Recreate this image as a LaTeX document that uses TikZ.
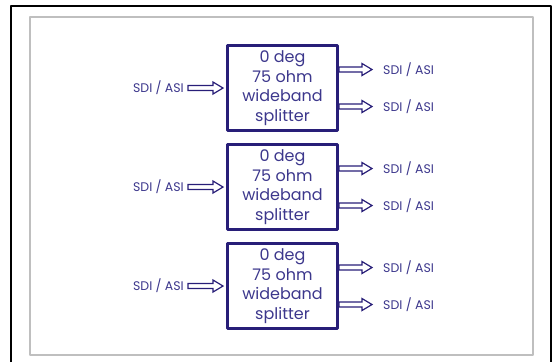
\documentclass[tikz,border=0pt]{standalone}
\usepackage{fontspec}
\setmainfont{Poppins}
\usetikzlibrary{positioning,calc}
\definecolor{splitblue}{RGB}{40,30,120}
\definecolor{labelblue}{RGB}{60,55,140}
\newcommand{\blockarrow}[2]{%
	\draw[sigarrow] let \p1=(#1), \p2=(#2) in
	(\x1,\y1+2.5pt) -- (\x2-10pt,\y1+2.5pt) -- (\x2-10pt,\y1+6pt) -- (\x2,\y1)
	-- (\x2-10pt,\y1-6pt) -- (\x2-10pt,\y1-2.5pt) -- (\x1,\y1-2.5pt) -- cycle;}
\begin{document}
\begin{tikzpicture}[x=1pt,y=-1pt,line join=round,
	splitbox/.style={draw=splitblue,line width=3pt,minimum width=110pt,minimum height=85pt,inner sep=0pt,align=center,text=labelblue,font=\fontsize{16}{19.5}\selectfont},
	sigtext/.style={text=labelblue,font=\fontsize{12.5}{14}\selectfont,inner sep=1pt},
	sigarrow/.style={draw=splitblue,line width=1.2pt,fill=white,line join=miter}]
	\useasboundingbox (0,0) rectangle (554,362);
	\draw[line width=2pt] (11,362) -- (11,6) -- (551,6) -- (551,362);
	\draw[gray!50,line width=1.2pt] (30,17) rectangle (533,355);
	
	\node[splitbox] (box1) at (282.5,88) {0 deg\\75 ohm\\wideband\\splitter};
	\node[splitbox] (box2) at (282.5,187) {0 deg\\75 ohm\\wideband\\splitter};
	\node[splitbox] (box3) at (282.5,286) {0 deg\\75 ohm\\wideband\\splitter};
	
	\coordinate (in1) at ($(box1.west)+(-38,0)$);
	\coordinate (in2) at ($(box2.west)+(-38,0)$);
	\coordinate (in3) at ($(box3.west)+(-38,0)$);
	\coordinate (out1a) at ($(box1.east)+(33,-18.5)$);
	\coordinate (out1b) at ($(box1.east)+(33,18.5)$);
	\coordinate (out2a) at ($(box2.east)+(33,-18.5)$);
	\coordinate (out2b) at ($(box2.east)+(33,18.5)$);
	\coordinate (out3a) at ($(box3.east)+(33,-18.5)$);
	\coordinate (out3b) at ($(box3.east)+(33,18.5)$);
	
	\node[sigtext,left=3pt of in1] (lin1) {SDI / ASI};
	\node[sigtext,left=3pt of in2] (lin2) {SDI / ASI};
	\node[sigtext,left=3pt of in3] (lin3) {SDI / ASI};
	\node[sigtext,right=10pt of out1a] (lout1a) {SDI / ASI};
	\node[sigtext,right=10pt of out1b] (lout1b) {SDI / ASI};
	\node[sigtext,right=10pt of out2a] (lout2a) {SDI / ASI};
	\node[sigtext,right=10pt of out2b] (lout2b) {SDI / ASI};
	\node[sigtext,right=10pt of out3a] (lout3a) {SDI / ASI};
	\node[sigtext,right=10pt of out3b] (lout3b) {SDI / ASI};
	
	\blockarrow{in1}{$(box1.west)+(-3,0)$}
	\blockarrow{in2}{$(box2.west)+(-3,0)$}
	\blockarrow{in3}{$(box3.west)+(-3,0)$}
	\blockarrow{$(box1.east)+(0,-18.5)$}{out1a}
	\blockarrow{$(box1.east)+(0,18.5)$}{out1b}
	\blockarrow{$(box2.east)+(0,-18.5)$}{out2a}
	\blockarrow{$(box2.east)+(0,18.5)$}{out2b}
	\blockarrow{$(box3.east)+(0,-18.5)$}{out3a}
	\blockarrow{$(box3.east)+(0,18.5)$}{out3b}
\end{tikzpicture}
\end{document}
